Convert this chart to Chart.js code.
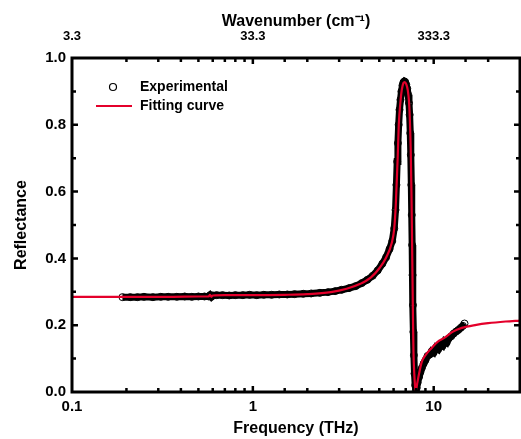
<!DOCTYPE html>
<html>
<head>
  <title>Reflectance</title>
  <script src="https://cdn.jsdelivr.net/npm/chart.js"></script>
  <style>
    body { margin: 0; background: #fff; }
  </style>
</head>
<body>
  <canvas id="grafico" width="521" height="439"></canvas>

  <script>
    // experimental points (THz, reflectance)
    var expFreq = [0.19, 0.21, 0.23, 0.25, 0.28, 0.31, 0.34, 0.38, 0.42, 0.46, 0.5, 0.54, 0.57, 0.58, 0.59, 0.6,
      0.63, 0.68, 0.74, 0.8, 0.88, 0.96, 1.05, 1.15, 1.27, 1.4, 1.55, 1.7, 1.9, 2.1, 2.35, 2.6, 2.85, 3.1, 3.4,
      3.7, 4.0, 4.3, 4.6, 4.9, 5.2, 5.45, 5.7, 5.9, 6.05, 6.15, 6.22, 6.28, 6.34, 6.4, 6.47, 6.55, 6.63, 6.72,
      6.8, 6.88, 6.96, 7.05, 7.14, 7.22, 7.3, 7.36, 7.42, 7.47, 7.52, 7.56, 7.6, 7.64, 7.68, 7.72, 7.77, 7.83,
      7.9, 7.97, 8.05, 8.15, 8.3, 8.45, 8.6, 8.8, 9.0, 9.25, 9.5, 9.75, 10.0, 10.3, 10.6, 10.9, 11.2, 11.5,
      11.8, 12.1, 12.5, 12.9, 13.3, 13.7, 14.1, 14.5, 14.8];
    var expRefl = [0.284, 0.284, 0.284, 0.285, 0.284, 0.285, 0.285, 0.285, 0.286, 0.285, 0.286, 0.286, 0.286, 0.290, 0.285, 0.289,
      0.290, 0.290, 0.289, 0.290, 0.290, 0.291, 0.290, 0.291, 0.291, 0.292, 0.292, 0.293, 0.294, 0.295, 0.297, 0.299, 0.302, 0.306, 0.311,
      0.317, 0.326, 0.336, 0.348, 0.364, 0.384, 0.403, 0.428, 0.452, 0.49, 0.545, 0.62, 0.69, 0.745, 0.80, 0.845, 0.875, 0.90, 0.918,
      0.927, 0.93, 0.928, 0.92, 0.908, 0.89, 0.865, 0.83, 0.775, 0.71, 0.62, 0.53, 0.44, 0.35, 0.26, 0.18, 0.11, 0.055,
      0.02, 0.005, 0.012, 0.028, 0.045, 0.06, 0.072, 0.085, 0.095, 0.108, 0.112, 0.122, 0.118, 0.133, 0.128, 0.142, 0.138, 0.152,
      0.148, 0.16, 0.167, 0.175, 0.181, 0.186, 0.192, 0.198, 0.205];

    // fitting curve
    var fitFreq = [0.1, 0.2, 0.35, 0.5, 0.57, 0.58, 0.59, 0.6, 0.7, 1.0, 1.5, 2.0, 2.7, 3.3, 3.9, 4.5, 5.03, 5.45, 5.86,
      6.05, 6.17, 6.32, 6.41, 6.55, 6.66, 6.8, 6.91, 7.05, 7.18, 7.3, 7.37, 7.46, 7.53, 7.58, 7.63, 7.68, 7.73, 7.8,
      7.88, 7.96, 8.1, 8.3, 8.59, 9.0, 9.75, 10.5, 11.5, 12.7, 14.3, 17.2, 20, 25, 30];
    var fitRefl = [0.285, 0.285, 0.285, 0.286, 0.286, 0.291, 0.285, 0.289, 0.290, 0.290, 0.291, 0.293, 0.299, 0.309, 0.323, 0.343, 0.372, 0.402, 0.446,
      0.49, 0.56, 0.70, 0.80, 0.87, 0.905, 0.925, 0.928, 0.922, 0.905, 0.87, 0.825, 0.73, 0.60, 0.48, 0.35, 0.22, 0.12, 0.06,
      0.02, 0.003, 0.025, 0.055, 0.09, 0.11, 0.132, 0.150, 0.163, 0.180, 0.192, 0.201, 0.206, 0.211, 0.214];

    var freqTicks = [0.1, 1, 10];
    var wavenumberLabels = ['3.3', '33.3', '333.3'];

    var FONT = 'Liberation Sans, Arial, sans-serif';
    var RED = 'rgb(228,0,43)';

    function pts(xs, ys) {
      return xs.map(function(x, i) { return { x: x, y: ys[i] }; });
    }
    function isDecade(v) {
      var l = Math.log10(v);
      return Math.abs(l - Math.round(l)) < 1e-6;
    }
    function decadeIndex(v) {
      for (var i = 0; i < freqTicks.length; i++) {
        if (Math.abs(v - freqTicks[i]) < 1e-6 * freqTicks[i]) return i;
      }
      return -1;
    }
    function noSidePad(s, h) {
      s.height = h;
      s.paddingLeft = 0;
      s.paddingRight = 0;
    }

    // inward ticks, frame and legend
    var framePlugin = {
      id: 'frame',
      afterDraw: function(chart) {
        var ctx = chart.ctx, a = chart.chartArea, sx = chart.scales.x, sy = chart.scales.y;
        ctx.save();
        ctx.strokeStyle = '#000';
        ctx.lineWidth = 2.5;
        ctx.lineCap = 'butt';
        sx.ticks.forEach(function(t) {
          var px = sx.getPixelForValue(t.value);
          if (px <= a.left + 2 || px >= a.right - 2) return;
          var len = isDecade(t.value) ? 6 : 4;
          ctx.beginPath();
          ctx.moveTo(px, a.bottom); ctx.lineTo(px, a.bottom - len);
          ctx.moveTo(px, a.top); ctx.lineTo(px, a.top + len);
          ctx.stroke();
        });
        sy.ticks.forEach(function(t) {
          var py = sy.getPixelForValue(t.value);
          if (py <= a.top + 2 || py >= a.bottom - 2) return;
          var len = Math.round(t.value * 10) % 2 === 0 ? 6 : 4;
          ctx.beginPath();
          ctx.moveTo(a.left, py); ctx.lineTo(a.left + len, py);
          ctx.moveTo(a.right, py); ctx.lineTo(a.right - len, py);
          ctx.stroke();
        });
        ctx.lineWidth = 3;
        ctx.strokeRect(a.left, a.top, a.right - a.left, a.bottom - a.top);

        // legend
        ctx.lineWidth = 1.2;
        ctx.beginPath();
        ctx.arc(113, 87, 3.5, 0, Math.PI * 2);
        ctx.stroke();
        ctx.strokeStyle = RED;
        ctx.lineWidth = 2;
        ctx.beginPath();
        ctx.moveTo(96, 106); ctx.lineTo(132, 106);
        ctx.stroke();
        ctx.fillStyle = '#000';
        ctx.font = 'bold 14px ' + FONT;
        ctx.textBaseline = 'middle';
        ctx.textAlign = 'left';
        ctx.fillText('Experimental', 140, 87);
        ctx.fillText('Fitting curve', 140, 106);
        ctx.restore();
      }
    };

    var ctx = document.getElementById('grafico').getContext('2d');
    new Chart(ctx, {
      type: 'scatter',
      data: {
        datasets: [{
          label: 'Fitting curve',
          data: pts(fitFreq, fitRefl),
          showLine: true,
          borderColor: RED,
          borderWidth: 2.2,
          pointRadius: 0,
          cubicInterpolationMode: 'monotone',
          order: 0
        }, {
          label: 'Experimental',
          data: pts(expFreq, expRefl),
          showLine: true,
          borderColor: '#000',
          borderWidth: 7,
          pointRadius: 3.5,
          pointBorderWidth: 1,
          pointBorderColor: '#000',
          pointBackgroundColor: 'rgba(0,0,0,0)',
          order: 1
        }]
      },
      options: {
        responsive: false,
        animation: false,
        layout: { autoPadding: false, padding: { left: 0, right: 1, top: 0, bottom: 0 } },
        plugins: { legend: { display: false }, tooltip: { enabled: false } },
        scales: {
          x: {
            type: 'logarithmic',
            position: 'bottom',
            min: 0.1,
            max: 30,
            afterFit: function(s) { noSidePad(s, 47); },
            grid: { display: false, drawTicks: false },
            border: { display: false },
            ticks: {
              autoSkip: false,
              maxRotation: 0,
              padding: 6,
              color: '#000',
              font: { family: FONT, size: 15, weight: 'bold' },
              callback: function(v) { return isDecade(v) ? String(+(+v).toPrecision(3)) : ''; }
            },
            title: {
              display: true,
              text: 'Frequency (THz)',
              color: '#000',
              font: { family: FONT, size: 16, weight: 'bold' },
              padding: { top: 0, bottom: 1 }
            }
          },
          x2: {
            type: 'logarithmic',
            position: 'top',
            min: 0.1,
            max: 30,
            afterFit: function(s) { noSidePad(s, 58); },
            grid: { display: false, drawTicks: false },
            border: { display: false },
            ticks: {
              autoSkip: false,
              maxRotation: 0,
              padding: 14,
              color: '#000',
              font: { family: FONT, size: 13, weight: 'bold' },
              callback: function(v) {
                var i = decadeIndex(v);
                return i >= 0 ? wavenumberLabels[i] : '';
              }
            },
            title: {
              display: true,
              text: 'Wavenumber (cm\u207B\u00B9)',
              color: '#000',
              font: { family: FONT, size: 16, weight: 'bold' },
              padding: { top: 12, bottom: 0 }
            }
          },
          y: {
            min: 0,
            max: 1,
            afterFit: function(s) { s.width = 72; },
            grid: { display: false, drawTicks: false },
            border: { display: false },
            ticks: {
              stepSize: 0.1,
              padding: 6,
              color: '#000',
              font: { family: FONT, size: 15, weight: 'bold' },
              callback: function(v) {
                var n = Math.round(v * 10);
                return n % 2 === 0 ? (n / 10).toFixed(1) : '';
              }
            },
            title: {
              display: true,
              text: 'Reflectance',
              color: '#000',
              font: { family: FONT, size: 16, weight: 'bold' },
              padding: { top: 12, bottom: 0 }
            }
          }
        }
      },
      plugins: [framePlugin]
    });
  </script>
</body>
</html>
